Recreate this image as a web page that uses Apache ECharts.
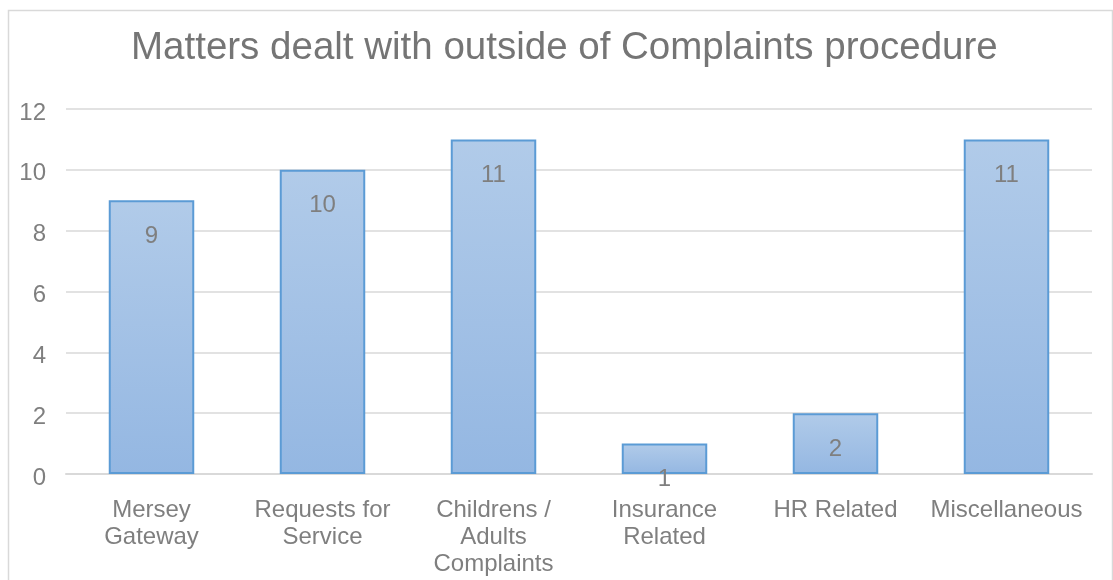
<!DOCTYPE html>
<html>
<head>
<meta charset="utf-8">
<script src="https://cdn.jsdelivr.net/npm/echarts@6/dist/echarts.min.js"></script>
<style>
html,body{margin:0;padding:0;background:#fff;}
#chart{width:1113px;height:580px;}
</style>
</head>
<body>
<div id="chart"></div>
<script>
const titleText = 'Matters dealt with outside of Complaints procedure';
const categories = ['Mersey\nGateway', 'Requests for\nService', 'Childrens /\nAdults\nComplaints', 'Insurance\nRelated', 'HR Related', 'Miscellaneous'];
const values = [9, 10, 11, 1, 2, 11];

const chart = echarts.init(document.getElementById('chart'));
const font = '"Liberation Sans", Arial, sans-serif';
chart.setOption({
  animation: false,
  backgroundColor: '#ffffff',
  graphic: [{
    type: 'rect', left: 6, top: 8, z: -1,
    shape: { width: 1104, height: 600 },
    style: { fill: 'none', stroke: '#d9d9d9', lineWidth: 1.5 }
  }],
  title: {
    text: titleText, left: 126, top: 24,
    textStyle: { fontFamily: font, fontSize: 38.5, fontWeight: 'normal', color: '#757575' }
  },
  grid: { left: 66, right: 21, top: 109, bottom: 106, containLabel: false },
  xAxis: {
    type: 'category', data: categories,
    axisLine: { show: true, lineStyle: { color: '#d9d9d9', width: 2 } },
    axisTick: { show: false },
    axisLabel: { interval: 0, margin: 23, fontFamily: font, fontSize: 24, color: '#7f7f7f', lineHeight: 27 }
  },
  yAxis: {
    type: 'value', min: 0, max: 12, interval: 2,
    axisLine: { show: false }, axisTick: { show: false },
    splitLine: { lineStyle: { color: '#d9d9d9', width: 1.5 } },
    axisLabel: { margin: 20, verticalAlign: 'top', lineHeight: 8, fontFamily: font, fontSize: 24, color: '#7f7f7f' }
  },
  series: [{
    type: 'bar', data: values, barWidth: '50%',
    itemStyle: {
      color: new echarts.graphic.LinearGradient(0, 0, 0, 1, [
        { offset: 0, color: '#b1cbe9' }, { offset: 1, color: '#94b7e2' }
      ]),
      borderColor: '#5b9bd5', borderWidth: 2
    },
    label: {
      show: true, position: 'insideTop', distance: 24,
      fontFamily: font, fontSize: 24, color: '#7f7f7f'
    }
  }]
});
</script>
</body>
</html>
